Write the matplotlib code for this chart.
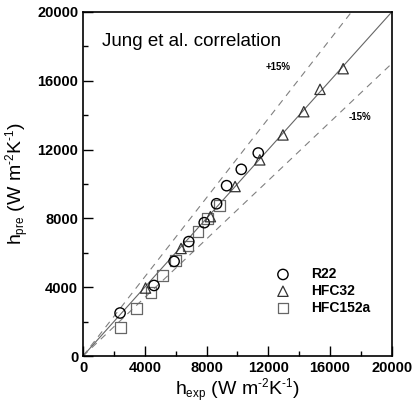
import numpy as np
import matplotlib
matplotlib.use("Agg")
import matplotlib.pyplot as plt
import matplotlib._mathtext as mtext
from matplotlib.ticker import MultipleLocator

plt.rcParams["font.family"] = ["Liberation Sans", "DejaVu Sans"]
plt.rcParams["mathtext.fontset"] = "custom"
plt.rcParams["mathtext.rm"] = "Liberation Sans"
plt.rcParams["mathtext.it"] = "Liberation Sans"
mtext.SHRINK_FACTOR = 0.6   # smaller sub/superscripts, as in the original

# ── Data ──────────────────────────────────────────────────────────────────────
r22_exp = [2400, 4600, 5900, 6850, 7850, 8650, 9300, 10250, 11350]
r22_pre = [2500, 4100, 5500, 6650, 7750, 8850, 9900, 10850, 11800]

hfc32_exp = [4050, 6350, 8250, 9850, 11450, 12950, 14300, 15350, 16850]
hfc32_pre = [3950, 6250, 8100, 9850, 11400, 12850, 14200, 15500, 16700]

hfc152a_exp = [2450, 3450, 4400, 5150, 6000, 6800, 7450, 8050, 8850]
hfc152a_pre = [1650, 2750, 3700, 4700, 5550, 6400, 7250, 8000, 8750]

limits = [0, 20000]
bands = {"+15%": 1.15, "-15%": 0.85}

# ── Figure ────────────────────────────────────────────────────────────────────
fig = plt.figure(figsize=(4.12, 4.11), dpi=100)
ax = fig.add_axes([0.2015, 0.1338, 0.7495, 0.8372])

x_line = np.array(limits, dtype=float)
ax.plot(x_line, x_line, color="#666666", lw=0.8, zorder=1)
for k in bands.values():
    ax.plot(x_line, k * x_line, color="#808080", lw=0.8, ls=(0, (6, 5)), zorder=1)

ax.scatter(r22_exp, r22_pre, s=55, marker="o", facecolors="none",
           edgecolors="black", linewidths=1.0, label="R22", zorder=3)
ax.scatter(hfc32_exp, hfc32_pre, s=55, marker="^", facecolors="none",
           edgecolors="#333333", linewidths=0.9, label="HFC32", zorder=3)
ax.scatter(hfc152a_exp, hfc152a_pre, s=60, marker="s", facecolors="none",
           edgecolors="#666666", linewidths=0.9, label="HFC152a", zorder=2)

ax.set_xlim(limits)
ax.set_ylim(limits)
ax.xaxis.set_major_locator(MultipleLocator(4000))
ax.xaxis.set_minor_locator(MultipleLocator(2000))
ax.yaxis.set_major_locator(MultipleLocator(4000))
ax.yaxis.set_minor_locator(MultipleLocator(2000))
ax.tick_params(which="major", direction="in", length=7, width=1.0, labelsize=10.5)
ax.tick_params(which="minor", direction="in", length=3.5, width=1.0)
for lbl in ax.get_xticklabels() + ax.get_yticklabels():
    lbl.set_fontweight("bold")
for sp in ax.spines.values():
    sp.set_linewidth(1.2)

ax.set_xlabel(r"h$_{\rm exp}$ (W m$^{\text{-2}}$K$^{\text{-1}}$)", fontsize=14, labelpad=1)
ax.set_ylabel(r"h$_{\rm pre}$ (W m$^{\text{-2}}$K$^{\text{-1}}$)", fontsize=14, labelpad=4)

ax.text(1200, 18300, "Jung et al. correlation", fontsize=13.5, va="center")
ax.text(11850, 16800, "+15%", fontsize=7, fontweight="bold", va="center")
ax.text(17200, 13900, "-15%", fontsize=7, fontweight="bold", va="center")

leg = ax.legend(loc="lower left", bbox_to_anchor=(0.58, 0.1), frameon=False,
                handletextpad=1.0, labelspacing=0.2, borderpad=0,
                prop={"weight": "bold", "size": 10})

fig.savefig("out.png", dpi=100)
